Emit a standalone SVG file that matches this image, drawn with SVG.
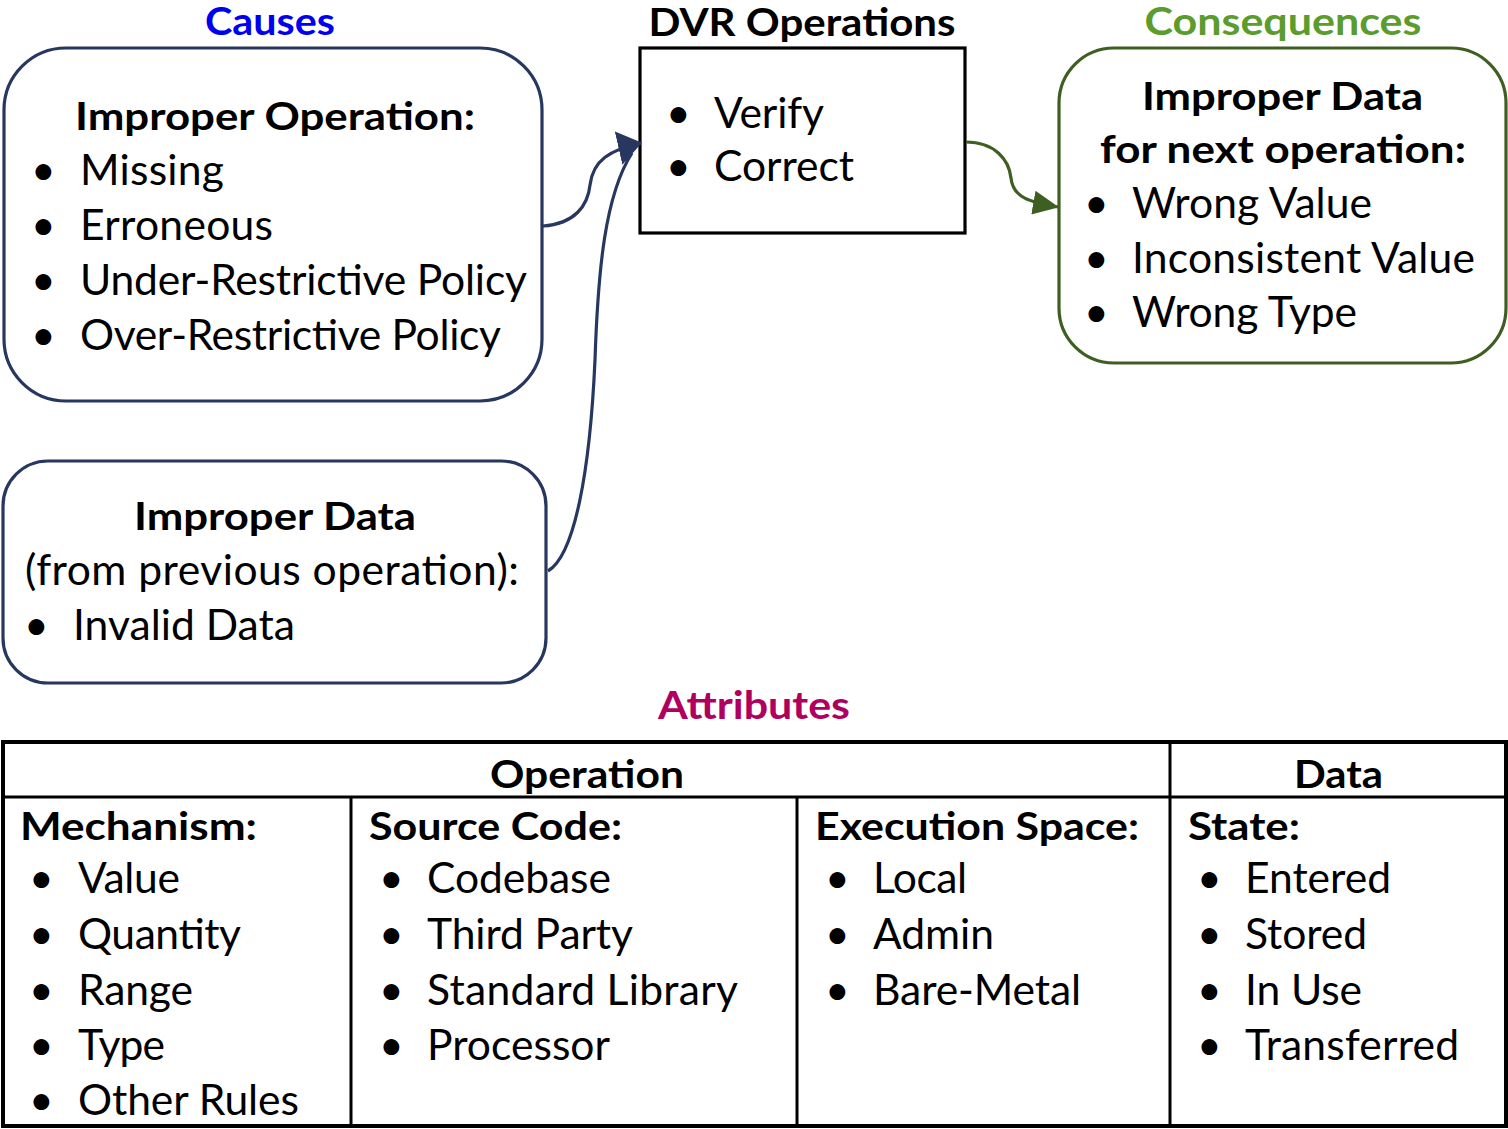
<svg xmlns="http://www.w3.org/2000/svg" width="1508" height="1129" viewBox="0 0 1508 1129">
<defs>
<style>
text{font-family:Lato,"Open Sans","Liberation Sans",sans-serif;fill:#000}
.t{font-size:42.6px}
.b{font-size:39px;font-weight:bold}
.c{text-anchor:middle}
.nav{fill:none;stroke:#27375f;stroke-width:3.2}
.grn{fill:none;stroke:#3f5f22;stroke-width:3.2}
.blk{fill:none;stroke:#000;stroke-width:3.2}
.tl{stroke:#000;stroke-width:3}
</style>
<marker id="aB" viewBox="0 0 24 34" refX="23" refY="17" markerWidth="24" markerHeight="34" markerUnits="userSpaceOnUse" orient="auto"><path d="M0,0L24,17L0,34Z" fill="#27375f"/></marker>
<marker id="aG" viewBox="0 0 26 24" refX="25" refY="12" markerWidth="26" markerHeight="24" markerUnits="userSpaceOnUse" orient="auto"><path d="M0,0L26,12L0,24Z" fill="#3f5f22"/></marker>
</defs>
<rect width="1508" height="1129" fill="#fff"/>

<g id="titles">
<text class="b c" x="270" y="35" textLength="130" lengthAdjust="spacingAndGlyphs" style="fill:#0000f0">Causes</text>
<text class="b c" x="802" y="35.5" font-size="38" textLength="307" lengthAdjust="spacingAndGlyphs">DVR Operations</text>
<text class="b c" x="1283" y="35" textLength="277" lengthAdjust="spacingAndGlyphs" style="fill:#5b9c2c">Consequences</text>
<text class="b c" x="754" y="719" textLength="192" lengthAdjust="spacingAndGlyphs" style="fill:#b0005f">Attributes</text>
</g>

<g id="improper-operation">
<rect class="nav" x="4" y="48" width="538" height="353" rx="62"/>
<text class="b" x="75" y="130" textLength="400" lengthAdjust="spacingAndGlyphs">Improper Operation:</text>
<text class="t" x="31" y="185">•</text><text class="t" x="80" y="185" textLength="144">Missing</text>
<text class="t" x="31" y="240">•</text><text class="t" x="80" y="240" textLength="193">Erroneous</text>
<text class="t" x="31" y="295">•</text><text class="t" x="80" y="295" textLength="447">Under-Restrictive Policy</text>
<text class="t" x="31" y="350">•</text><text class="t" x="80" y="350" textLength="421">Over-Restrictive Policy</text>
</g>

<g id="improper-data-in">
<rect class="nav" x="3" y="461" width="543" height="222" rx="45"/>
<text class="b" x="134" y="530" textLength="282" lengthAdjust="spacingAndGlyphs">Improper Data</text>
<text class="t" x="25" y="585" textLength="494">(from previous operation):</text>
<text class="t" x="24" y="640">•</text><text class="t" x="73" y="640" textLength="222">Invalid Data</text>
</g>

<g id="dvr-operations">
<rect class="blk" x="640" y="48" width="325" height="185"/>
<text class="t" x="666" y="128">•</text><text class="t" x="714" y="128" textLength="110">Verify</text>
<text class="t" x="666" y="181">•</text><text class="t" x="714" y="181" textLength="140">Correct</text>
</g>

<g id="improper-data-out">
<rect class="grn" x="1059" y="48" width="447" height="315" rx="55"/>
<text class="b" x="1142" y="110" textLength="281" lengthAdjust="spacingAndGlyphs">Improper Data</text>
<text class="b" x="1100" y="163" textLength="366" lengthAdjust="spacingAndGlyphs">for next operation:</text>
<text class="t" x="1084" y="218">•</text><text class="t" x="1132" y="218" textLength="240">Wrong Value</text>
<text class="t" x="1084" y="273">•</text><text class="t" x="1132" y="273" textLength="343">Inconsistent Value</text>
<text class="t" x="1084" y="327">•</text><text class="t" x="1132" y="327" textLength="225">Wrong Type</text>
</g>

<g id="connectors">
<path class="nav" d="M543,226 C575,224 588,205 590,185 C593,160 610,150 641,143" marker-end="url(#aB)"/>
<path class="nav" d="M548,571 C575,555 590,470 595,360 C598,270 605,195 632,153"/>
<path class="grn" d="M966,142 C995,142 1009,160 1011,178 C1013,198 1030,202 1058,207" marker-end="url(#aG)"/>
</g>

<g id="attributes-table">
<rect x="3" y="742" width="1503" height="384" fill="none" stroke="#000" stroke-width="4"/>
<line class="tl" x1="3" y1="797" x2="1506" y2="797"/>
<line class="tl" x1="351" y1="797" x2="351" y2="1126"/>
<line class="tl" x1="797" y1="797" x2="797" y2="1126"/>
<line class="tl" x1="1170" y1="742" x2="1170" y2="1126"/>
<text class="b" x="490" y="788" textLength="194" lengthAdjust="spacingAndGlyphs">Operation</text>
<text class="b" x="1294" y="788" textLength="89" lengthAdjust="spacingAndGlyphs">Data</text>

<text class="b" x="20" y="840" textLength="237" lengthAdjust="spacingAndGlyphs">Mechanism:</text>
<text class="t" x="29" y="893">•</text><text class="t" x="78" y="893" textLength="102">Value</text>
<text class="t" x="29" y="949">•</text><text class="t" x="78" y="949" textLength="163">Quantity</text>
<text class="t" x="29" y="1005">•</text><text class="t" x="78" y="1005" textLength="115">Range</text>
<text class="t" x="29" y="1060">•</text><text class="t" x="78" y="1060" textLength="87">Type</text>
<text class="t" x="29" y="1115">•</text><text class="t" x="78" y="1115" textLength="221">Other Rules</text>

<text class="b" x="369" y="840" textLength="253" lengthAdjust="spacingAndGlyphs">Source Code:</text>
<text class="t" x="379" y="893">•</text><text class="t" x="427" y="893" textLength="184">Codebase</text>
<text class="t" x="379" y="949">•</text><text class="t" x="427" y="949" textLength="206">Third Party</text>
<text class="t" x="379" y="1005">•</text><text class="t" x="427" y="1005" textLength="311">Standard Library</text>
<text class="t" x="379" y="1060">•</text><text class="t" x="427" y="1060" textLength="183">Processor</text>

<text class="b" x="815" y="840" textLength="324" lengthAdjust="spacingAndGlyphs">Execution Space:</text>
<text class="t" x="825" y="893">•</text><text class="t" x="873" y="893" textLength="94">Local</text>
<text class="t" x="825" y="949">•</text><text class="t" x="873" y="949" textLength="121">Admin</text>
<text class="t" x="825" y="1005">•</text><text class="t" x="873" y="1005" textLength="208">Bare-Metal</text>

<text class="b" x="1188" y="840" textLength="112" lengthAdjust="spacingAndGlyphs">State:</text>
<text class="t" x="1197" y="893">•</text><text class="t" x="1245" y="893" textLength="146">Entered</text>
<text class="t" x="1197" y="949">•</text><text class="t" x="1245" y="949" textLength="122">Stored</text>
<text class="t" x="1197" y="1005">•</text><text class="t" x="1245" y="1005" textLength="117">In Use</text>
<text class="t" x="1197" y="1060">•</text><text class="t" x="1245" y="1060" textLength="214">Transferred</text>
</g>
</svg>
